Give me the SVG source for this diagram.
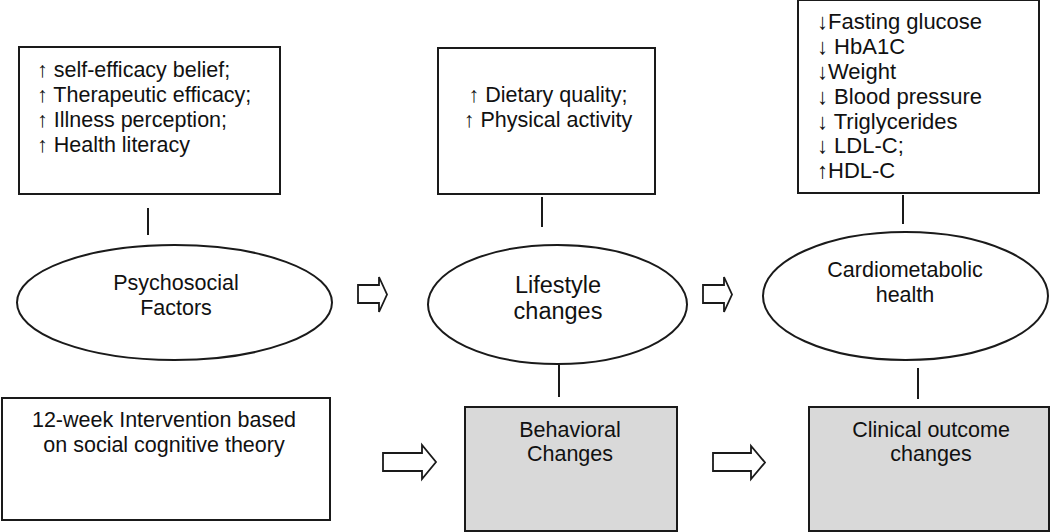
<svg xmlns="http://www.w3.org/2000/svg" width="1050" height="532" viewBox="0 0 1050 532">
<style>
.box{fill:#ffffff;stroke:#1a1a1a;stroke-width:2}
.gbox{fill:#d9d9d9;stroke:#1a1a1a;stroke-width:2}
.ell{fill:#ffffff;stroke:#1a1a1a;stroke-width:2}
.arr{fill:#ffffff;stroke:#1a1a1a;stroke-width:1.8;stroke-linejoin:miter}
.ln{stroke:#1a1a1a;stroke-width:2;fill:none}
text{font-family:"Liberation Sans",Arial,sans-serif;font-size:21.5px;fill:#111}
.c{text-anchor:middle}
.big{font-size:23.5px}
.m{font-size:22px}
</style>
<rect width="1050" height="532" fill="#ffffff"/>
<g id="psy-box">
<rect class="box" x="19" y="47" width="261" height="147"/>
<text x="37" y="77">↑ self-efficacy belief;</text>
<text x="37" y="102">↑ Therapeutic efficacy;</text>
<text x="37" y="127">↑ Illness perception;</text>
<text x="37" y="152">↑ Health literacy</text>
</g>
<g id="life-box">
<rect class="box" x="438" y="48" width="217" height="146"/>
<text class="c" x="548" y="102">↑ Dietary quality;</text>
<text class="c" x="548" y="127">↑ Physical activity</text>
</g>
<g id="cardio-box">
<rect class="box" x="798" y="0" width="241" height="193"/>
<text class="m" x="817" y="29">↓Fasting glucose</text>
<text class="m" x="817" y="54">↓ HbA1C</text>
<text class="m" x="817" y="79">↓Weight</text>
<text class="m" x="817" y="104">↓ Blood pressure</text>
<text class="m" x="817" y="129">↓ Triglycerides</text>
<text class="m" x="817" y="153">↓ LDL-C;</text>
<text class="m" x="817" y="178">↑HDL-C</text>
</g>
<g id="psy">
<ellipse class="ell" cx="174.5" cy="302.5" rx="157.5" ry="57.5"/>
<text class="c" x="176" y="290">Psychosocial</text>
<text class="c" x="176" y="315">Factors</text>
</g>
<g id="life">
<ellipse class="ell" cx="557.5" cy="304.5" rx="129.5" ry="59.5"/>
<text class="c big" x="558" y="293">Lifestyle</text>
<text class="c big" x="558" y="319">changes</text>
</g>
<g id="cardio">
<ellipse class="ell" cx="905.5" cy="296" rx="142.5" ry="64"/>
<text class="c" x="905" y="277">Cardiometabolic</text>
<text class="c" x="905" y="302">health</text>
</g>
<g id="intervention">
<rect class="box" x="2" y="398" width="328" height="122"/>
<text class="c" x="164" y="427">12-week Intervention based</text>
<text class="c" x="164" y="452">on social cognitive theory</text>
</g>
<g id="behavioral">
<rect class="gbox" x="465" y="407" width="212" height="124"/>
<text class="c" x="570" y="437">Behavioral</text>
<text class="c" x="570" y="461">Changes</text>
</g>
<g id="clinical">
<rect class="gbox" x="809" y="407" width="240" height="124"/>
<text class="c" x="931" y="437">Clinical outcome</text>
<text class="c" x="931" y="461">changes</text>
</g>
<g id="connectors">
<line class="ln" x1="148" y1="208" x2="148" y2="235"/>
<line class="ln" x1="542" y1="197" x2="542" y2="227"/>
<line class="ln" x1="903" y1="195" x2="903" y2="224"/>
<line class="ln" x1="559" y1="365" x2="559" y2="397"/>
<line class="ln" x1="918" y1="368" x2="918" y2="399"/>
<polygon class="arr" points="358,285 379,285 379,277 387,294.5 379,312 379,303 358,303"/>
<polygon class="arr" points="703,285 724,285 724,277 732,294.5 724,312 724,303 703,303"/>
<polygon class="arr" points="383,453 422,453 422,445 436,462 422,479 422,471 383,471"/>
<polygon class="arr" points="713,453 751,453 751,446 765,462.5 751,479 751,471 713,471"/>
</g>
</svg>
